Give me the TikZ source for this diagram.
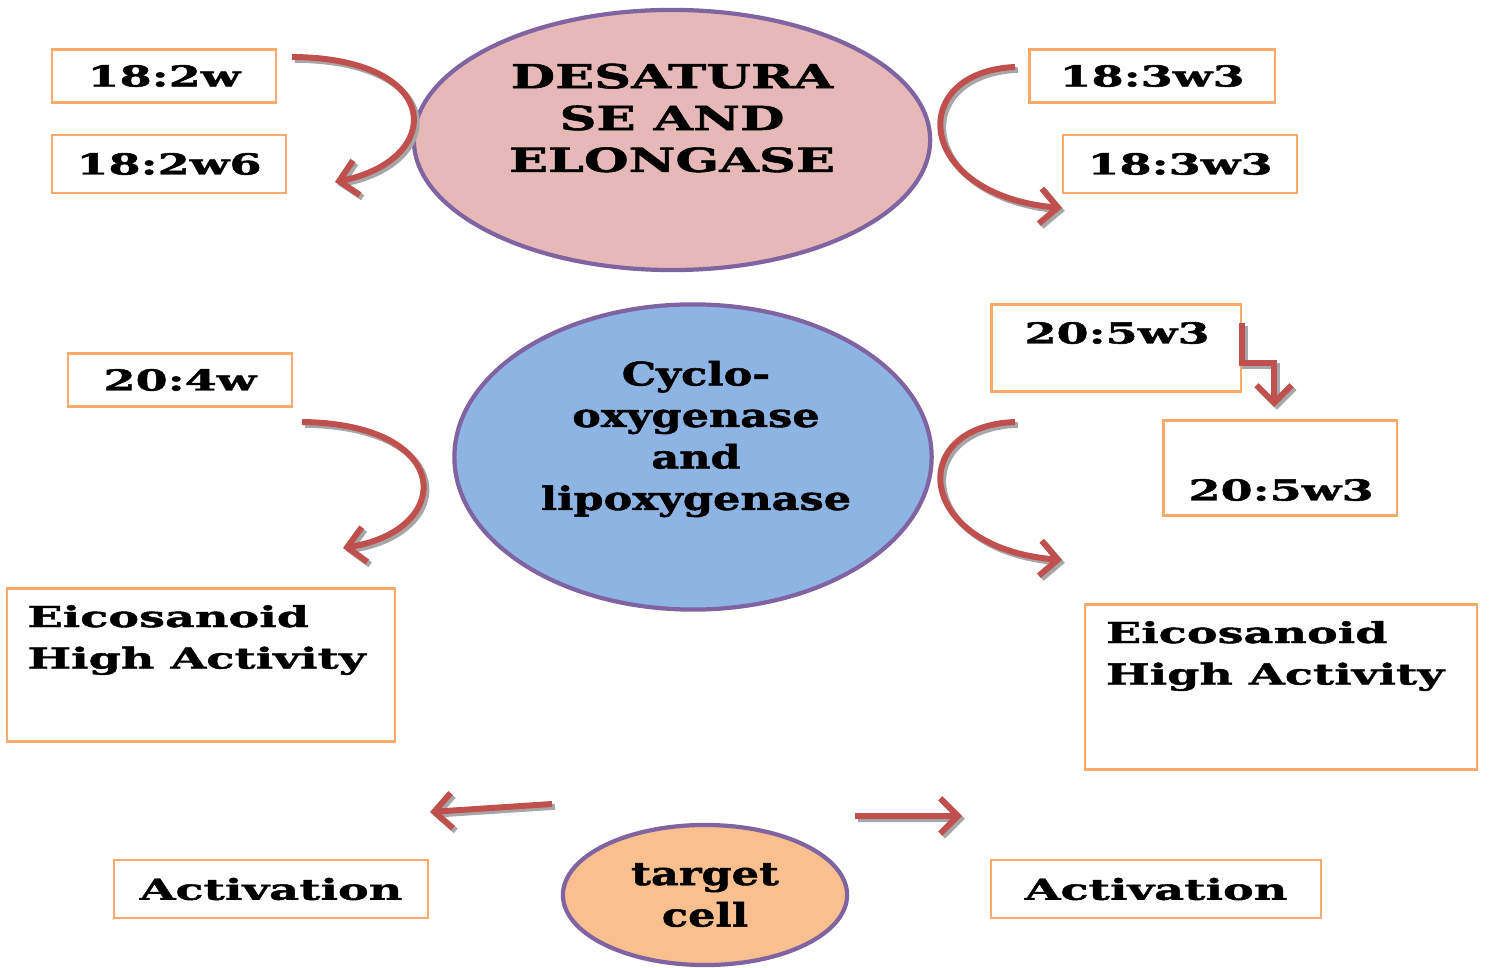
\documentclass[tikz,border=0pt]{standalone}
\usepackage{fontspec}
\newfontfamily\diafont{DejaVu Serif}[FakeStretch=1.6, FakeBold=1.6]
\newfontfamily\capsfont{DejaVu Serif}[FakeStretch=1.55, FakeBold=1.6]
\newfontfamily\ovalfont{DejaVu Serif}[FakeStretch=1.33, FakeBold=1.6]
\usetikzlibrary{arrows.meta,positioning,shapes.geometric}

\definecolor{pinkfill}{HTML}{E6B8B7}
\definecolor{bluefill}{HTML}{8DB4E2}
\definecolor{orangefill}{HTML}{F9BF8F}
\definecolor{ovalline}{HTML}{8064A2}
\definecolor{boxline}{HTML}{F9A96A}
\definecolor{arrowred}{HTML}{C0504D}

\tikzset{
  oval/.style={ellipse, draw=ovalline, line width=1.2pt, inner sep=0pt},
  fabox/.style={draw=boxline, line width=0.6pt, fill=white, inner sep=0pt},
  lbl/.style={font=\diafont\bfseries\fontsize{8.2}{11.8}\selectfont, inner sep=0pt},
  ttl/.style={font=\capsfont\bfseries\fontsize{9.4}{11.9}\selectfont, align=center, inner sep=0pt},
  ovaltxt/.style={font=\ovalfont\bfseries\fontsize{9.2}{11.8}\selectfont, align=center, inner sep=0pt},
  flowarrow/.style={draw=arrowred, line width=1.7pt, -{Straight Barb[length=5pt,width=10pt]},
    preaction={draw=black!35, line width=1.7pt, transform canvas={shift={(0.8pt,-0.8pt)}}}},
}

\begin{document}
\begin{tikzpicture}[x=0.01cm, y=-0.01cm]
\useasboundingbox (0,0) rectangle (1489,968);

% ovals
\node[oval, fill=pinkfill, minimum width=5.16cm, minimum height=2.6cm] (desat) at (672,140) {};
\node[ttl] (desatTxt) at (672,118) {DESATURA\\SE AND\\ELONGASE};
\node[oval, fill=bluefill, minimum width=4.77cm, minimum height=3.05cm] (cyclo) at (693,457) {};
\node[ovaltxt] (cycloTxt) at (696,439) {Cyclo-\\oxygenase\\and\\lipoxygenase};
\node[oval, fill=orangefill, minimum width=2.84cm, minimum height=1.4cm] (cell) at (705,895) {};
\node[ovaltxt] (cellTxt) at (705,895) {target\\cell};

% fatty acid boxes
\node[fabox, lbl, minimum width=2.24cm, minimum height=0.53cm] (a182) at (164,76) {18:2w};
\node[fabox, lbl, minimum width=2.34cm, minimum height=0.58cm] (a182b) at (169,164) {18:2w6};
\node[fabox, lbl, minimum width=2.45cm, minimum height=0.53cm] (a183) at (1152,76) {18:3w3};
\node[fabox, lbl, minimum width=2.34cm, minimum height=0.58cm] (a183b) at (1180,164) {18:3w3};
\node[fabox, lbl, minimum width=2.24cm, minimum height=0.53cm] (a204) at (180,380) {20:4w};
\node[fabox, minimum width=2.49cm, minimum height=0.87cm] (a205) at (1116,348) {};
\node[lbl] (a205Txt) at (1117,333) {20:5w3};
\node[fabox, minimum width=2.33cm, minimum height=0.95cm] (a205b) at (1280,468) {};
\node[lbl] (a205bTxt) at (1281,490) {20:5w3};

% eicosanoid boxes
\node[fabox, minimum width=3.88cm, minimum height=1.53cm] (eicL) at (201,665) {};
\node[lbl, align=left, anchor=north west] (eicLTxt) at ([shift={(21,17)}]eicL.north west) {Eicosanoid\\High Activity};
\node[fabox, minimum width=3.91cm, minimum height=1.65cm] (eicR) at (1281,687) {};
\node[lbl, align=left, anchor=north west] (eicRTxt) at ([shift={(21,17)}]eicR.north west) {Eicosanoid\\High Activity};

% activation boxes
\node[fabox, lbl, minimum width=3.14cm, minimum height=0.58cm] (actL) at (271,889) {Activation};
\node[fabox, lbl, minimum width=3.29cm, minimum height=0.58cm] (actR) at (1156,889) {Activation};

% arrow ends
\coordinate (tlS) at (292,57);   \coordinate (tlE) at (335,182);
\coordinate (trS) at (1015,67);  \coordinate (trE) at (1062,208);
\coordinate (mlS) at (302,422);  \coordinate (mlE) at (343,548);
\coordinate (mrS) at (1015,422); \coordinate (mrE) at (1062,560);
\coordinate (elS) at (1242,323); \coordinate (elE) at (1274,407);
\coordinate (blS) at (552,804);  \coordinate (blE) at (430,812);
\coordinate (brS) at (855,816);  \coordinate (brE) at (962,816);

% arrows
\draw[flowarrow] (tlS) .. controls (445,58) and (445,160) .. (tlE);
\draw[flowarrow] (trS) .. controls (905,72) and (915,195) .. (trE);
\draw[flowarrow] (mlS) .. controls (455,424) and (455,530) .. (mlE);
\draw[flowarrow] (mrS) .. controls (905,426) and (915,548) .. (mrE);
\draw[flowarrow] (elS) -- (1242,363) -- (1274,363) -- (elE);
\draw[flowarrow] (blS) -- (blE);
\draw[flowarrow] (brS) -- (brE);
\end{tikzpicture}
\end{document}
